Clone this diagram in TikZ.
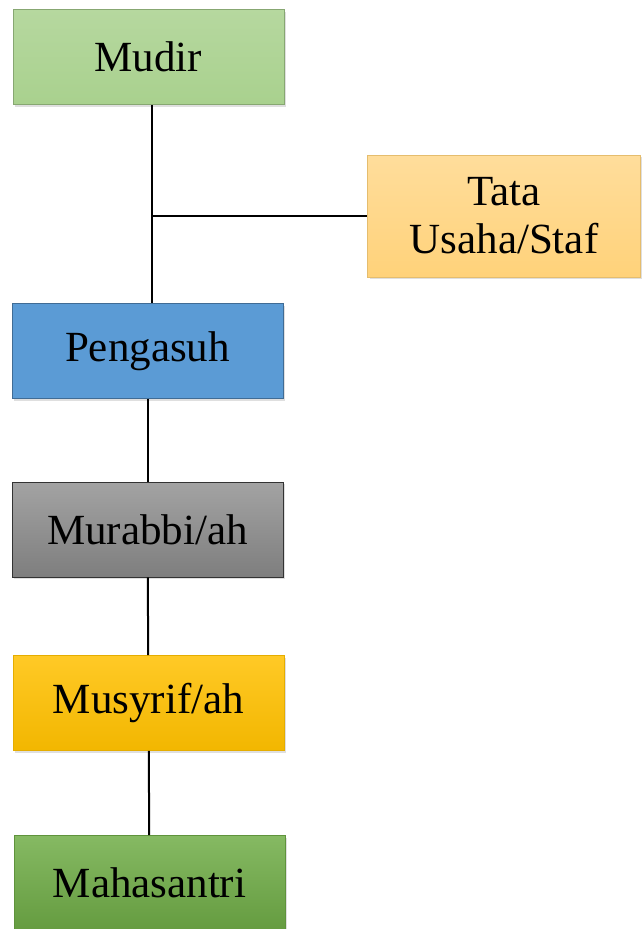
\documentclass[tikz,border=0pt]{standalone}
\usepackage{fontspec}
\setmainfont{Liberation Serif}
\usetikzlibrary{shadows}
\definecolor{hijau}{HTML}{A9D18E}
\definecolor{hijauTua}{HTML}{70AD47}
\definecolor{oranye}{HTML}{FFD27A}
\definecolor{biru}{HTML}{5B9BD5}
\definecolor{abu}{HTML}{8C8C8C}
\definecolor{emas}{HTML}{FFC000}
\tikzset{kotak/.style={draw, line width=0.8pt, minimum width=271pt, minimum height=95pt,
    inner sep=0pt, align=center, font=\fontsize{43}{48}\selectfont,
    drop shadow={opacity=0.25, shadow xshift=2pt, shadow yshift=-2pt}},
  garis/.style={line width=2pt}}

\begin{document}
\begin{tikzpicture}[x=1pt, y=-1pt]
  \useasboundingbox (0,0) rectangle (642,929);
  \node[kotak, draw=hijau!80!black, top color=hijau!85!white, bottom color=hijau] (mudir) at (148.5,57) {Mudir};
  \node[kotak, draw=oranye!90!black, top color=oranye!75!white, bottom color=oranye, minimum height=122pt, minimum width=273pt] (tata) at (504,216) {Tata\\Usaha/Staf};
  \node[kotak, draw=biru!70!black, fill=biru] (pengasuh) at (147.5,351) {Pengasuh};
  \node[kotak, draw=black!80, top color=abu!80!white, bottom color=abu!90!black] (murabbi) at (147.5,529.5) {Murabbi/ah};
  \node[kotak, draw=emas!90!black, top color=emas!85!white, bottom color=emas!95!black] (musyrif) at (148.5,703) {Musyrif/ah};
  \node[kotak, draw=hijauTua!85!black, top color=hijauTua!85!white, bottom color=hijauTua!90!black] (santri) at (149.5,883) {Mahasantri};

  % garis penghubung
  \coordinate (atas) at ([xshift=3pt]mudir.south);
  \coordinate (cabang) at (atas |- tata.west);
  \draw[garis] (atas) -- (atas |- pengasuh.north);
  \draw[garis] (cabang) -- (tata.west);
  \draw[garis] (pengasuh) -- (murabbi);
  \draw[garis] (murabbi) -- (musyrif);
  \draw[garis] (musyrif) -- (santri);
\end{tikzpicture}
\end{document}
